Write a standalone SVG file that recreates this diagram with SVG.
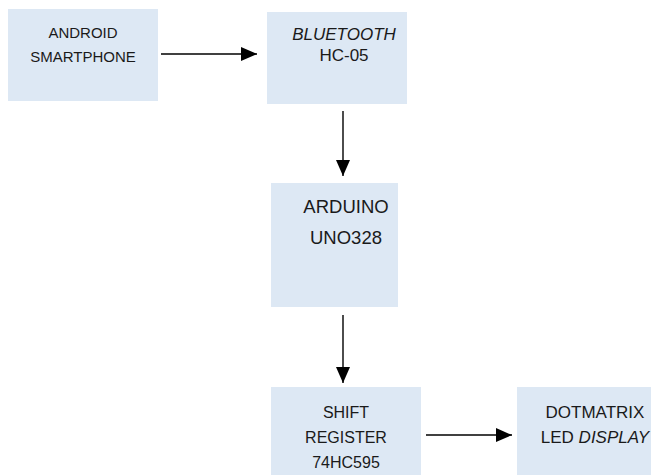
<svg xmlns="http://www.w3.org/2000/svg" width="658" height="475" viewBox="0 0 658 475">
<style>
.box{fill:#dde8f4;stroke:none}
.t{font-family:"Liberation Sans",Arial,sans-serif;fill:#1a1a1a;text-anchor:middle}
.conn{stroke:#000;stroke-width:1.4;fill:none}
</style>
<defs>
<marker id="ah" markerUnits="userSpaceOnUse" markerWidth="16" markerHeight="14" refX="16" refY="7" orient="auto">
<path d="M0,0 L16,7 L0,14 Z" fill="#000"/>
</marker>
</defs>
<rect width="658" height="475" fill="#fff"/>
<g id="android">
<rect class="box" x="8" y="9" width="150" height="92"/>
<text class="t" x="83" y="38" font-size="15">ANDROID</text>
<text class="t" x="83" y="62" font-size="15">SMARTPHONE</text>
</g>
<g id="bluetooth">
<rect class="box" x="267" y="12" width="140" height="92"/>
<text class="t" x="344" y="40" font-size="17" font-style="italic">BLUETOOTH</text>
<text class="t" x="344" y="61" font-size="17">HC-05</text>
</g>
<g id="arduino">
<rect class="box" x="271" y="183" width="127" height="124"/>
<text class="t" x="346" y="213" font-size="18.5">ARDUINO</text>
<text class="t" x="346" y="244" font-size="18.5">UNO328</text>
</g>
<g id="shift">
<rect class="box" x="271" y="387" width="150" height="88"/>
<text class="t" x="346" y="418" font-size="16">SHIFT</text>
<text class="t" x="346" y="443" font-size="16">REGISTER</text>
<text class="t" x="346" y="468" font-size="16">74HC595</text>
</g>
<g id="display">
<rect class="box" x="517" y="387" width="134" height="88"/>
<text class="t" x="595" y="418" font-size="17">DOTMATRIX</text>
<text class="t" x="595" y="443" font-size="17">LED <tspan font-style="italic">DISPLAY</tspan></text>
</g>
<g id="connectors">
<line class="conn" x1="161" y1="54" x2="257" y2="54" marker-end="url(#ah)"/>
<line class="conn" x1="343" y1="111" x2="343" y2="176" marker-end="url(#ah)"/>
<line class="conn" x1="343" y1="315" x2="343" y2="383" marker-end="url(#ah)"/>
<line class="conn" x1="426" y1="435" x2="512" y2="435" marker-end="url(#ah)"/>
</g>
</svg>
